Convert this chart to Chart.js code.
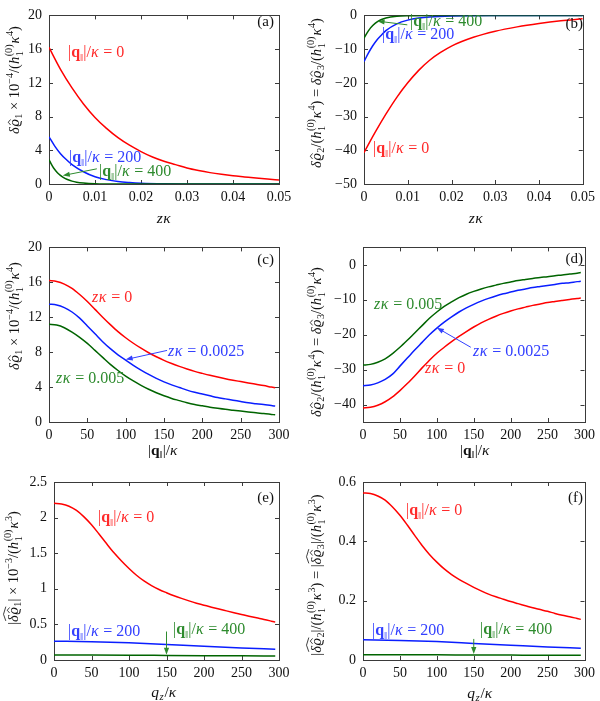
<!DOCTYPE html>
<html><head><meta charset="utf-8">
<script src="https://cdn.jsdelivr.net/npm/chart.js@4/dist/chart.umd.min.js"></script>
<style>
html,body{margin:0;padding:0;background:#fff;}
#wrap{position:relative;width:600px;height:701px;overflow:hidden;}
#wrap canvas{position:absolute;}
</style></head><body><div id="wrap"></div>
<script>
// ---------------- DATA ----------------
const zTicks = [0, 0.01, 0.02, 0.03, 0.04, 0.05];
const qTicks = [0, 50, 100, 150, 200, 250, 300];
const aYTicks = [0, 4, 8, 12, 16, 20];
const bYTicks = [-50, -40, -30, -20, -10, 0];
const cYTicks = [0, 4, 8, 12, 16, 20];
const dYTicks = [-40, -30, -20, -10, 0];
const eYTicks = [0, 0.5, 1, 1.5, 2, 2.5];
const fYTicks = [0, 0.2, 0.4, 0.6];

// panel (a): z*kappa grids and values
const zRedA = [0,0.0025,0.005,0.0075,0.01,0.0125,0.015,0.0175,0.02,0.0225,0.025,0.0275,0.03,0.0325,0.035,0.0375,0.04,0.0425,0.045,0.0475,0.05];
const aRed = [16.2,13.6,11.4,9.5,7.9,6.6,5.5,4.6,3.85,3.2,2.7,2.3,1.9,1.6,1.35,1.15,0.98,0.84,0.7,0.58,0.47];
const zBlueA = [0,0.00125,0.0025,0.00375,0.005,0.0075,0.01,0.0125,0.015,0.0175,0.02,0.025,0.03,0.05];
const aBlue = [5.6,4.5,3.6,2.9,2.3,1.45,0.85,0.52,0.3,0.18,0.1,0.03,0.01,0];
const zGreenA = [0,0.0005,0.001,0.0015,0.002,0.003,0.004,0.005,0.006,0.0075,0.01,0.015,0.05];
const aGreen = [2.9,2.35,1.9,1.55,1.25,0.82,0.53,0.34,0.22,0.12,0.04,0.005,0];

// panel (b)
const zRedB = [0,0.0025,0.005,0.0075,0.01,0.0125,0.015,0.0175,0.02,0.025,0.03,0.035,0.04,0.045,0.05];
const bRed = [-40.7,-34.8,-29.3,-24.3,-20,-16.3,-13.3,-11,-9.1,-6.5,-4.7,-3.4,-2.4,-1.6,-1.0];
const zBlueB = [0,0.001,0.002,0.003,0.004,0.005,0.0075,0.01,0.0125,0.015,0.02,0.03,0.05];
const bBlue = [-13.7,-11.2,-9.0,-7.2,-5.8,-4.5,-2.5,-1.4,-0.8,-0.45,-0.15,-0.02,0];
const zGreenB = [0,0.0005,0.001,0.0015,0.002,0.003,0.004,0.005,0.0075,0.01,0.015,0.05];
const bGreen = [-6.8,-5.6,-4.6,-3.7,-3.0,-1.9,-1.2,-0.75,-0.25,-0.08,0,0];

// panels (c)-(f): |q|/kappa or q_z/kappa grid
const qGrid = [0,10,20,30,40,50,60,70,80,90,100,110,120,130,140,150,160,170,180,190,200,210,220,230,240,250,260,270,280,290,295];
const cRed = [16.2,16.1,15.8,15.3,14.6,13.8,12.9,12.0,11.15,10.35,9.65,9.02,8.45,7.93,7.47,7.06,6.7,6.37,6.07,5.8,5.57,5.35,5.15,4.96,4.79,4.63,4.47,4.32,4.17,4.0,3.92];
const cBlue = [13.5,13.4,13.1,12.6,11.9,11.0,10.1,9.2,8.4,7.7,7.1,6.5,5.95,5.45,5.0,4.6,4.25,3.95,3.65,3.4,3.2,3.0,2.8,2.65,2.5,2.35,2.2,2.1,2.0,1.88,1.83];
const cGreen = [11.2,11.1,10.8,10.3,9.7,9.0,8.2,7.4,6.6,5.9,5.25,4.7,4.2,3.75,3.35,3.0,2.7,2.45,2.2,2.0,1.85,1.7,1.57,1.45,1.35,1.25,1.15,1.05,0.97,0.87,0.82];
const dRed = [-41,-40.8,-40.2,-39.2,-37.8,-36,-34,-31.8,-29.5,-27.3,-25.3,-23.6,-22,-20.5,-19.1,-17.8,-16.6,-15.6,-14.7,-13.9,-13.2,-12.6,-12.1,-11.6,-11.2,-10.8,-10.5,-10.2,-9.9,-9.6,-9.5];
const dBlue = [-34.6,-34.4,-33.8,-32.8,-31.3,-29,-26.7,-24.4,-22.2,-20,-18.1,-16.4,-14.9,-13.5,-12.3,-11.3,-10.4,-9.6,-8.9,-8.3,-7.8,-7.3,-6.9,-6.5,-6.2,-5.9,-5.6,-5.3,-5.1,-4.8,-4.7];
const dGreen = [-28.7,-28.5,-27.9,-26.9,-25.4,-23.6,-21.6,-19.5,-17.4,-15.3,-13.5,-11.9,-10.6,-9.4,-8.4,-7.6,-6.9,-6.3,-5.8,-5.3,-4.9,-4.5,-4.2,-3.9,-3.6,-3.4,-3.1,-2.9,-2.6,-2.4,-2.2];
const eRed = [2.2,2.19,2.16,2.1,2.01,1.9,1.77,1.635,1.505,1.39,1.285,1.19,1.11,1.045,0.99,0.945,0.903,0.865,0.83,0.798,0.77,0.742,0.715,0.69,0.665,0.64,0.615,0.592,0.57,0.545,0.532];
const qCoarse = [0,50,100,150,200,250,295];
const eBlue = [0.265,0.258,0.242,0.218,0.193,0.17,0.152];
const eGreen = [0.07,0.069,0.067,0.064,0.061,0.058,0.056];
const fRed = [0.563,0.561,0.553,0.539,0.516,0.488,0.455,0.42,0.386,0.356,0.33,0.307,0.288,0.272,0.258,0.245,0.233,0.222,0.213,0.205,0.197,0.19,0.183,0.176,0.17,0.164,0.157,0.151,0.146,0.14,0.137];
const fBlue = [0.068,0.066,0.062,0.056,0.05,0.044,0.04];
const fGreen = [0.018,0.018,0.0175,0.017,0.0165,0.016,0.016];

// ---------------- STYLE / LAYOUT ----------------
const FONT = '"Liberation Serif","DejaVu Serif",serif';
const RED = '#ff0000', BLUE = '#0a1eff', GREEN = '#006400';
const RED_T = '#ff2a2a', BLUE_T = '#3340ff', GREEN_T = '#2e8b2e';

const qlab = n => [{t:'|'},{t:'q',f:'b'},{t:'‖',pos:'sub'},{t:'|/'},{t:'κ',f:'i'},{t:' = '+n}];
const zlab = n => [{t:'z',f:'i'},{t:'κ',f:'i'},{t:' = '+n}];
const hk = p => [{t:'/('},{t:'h',f:'i'},{stack:['(0)','1']},{t:'κ',f:'i'},{t:p,pos:'sup'},{t:')'}];
const titleA = [{t:'δ',f:'i'},{t:'ϱ',f:'i',hat:1},{t:'1',pos:'sub'},{t:' × 10'},{t:'−4',pos:'sup'},...hk('4')];
const titleB = [{t:'δ',f:'i'},{t:'ϱ',f:'i',hat:1},{t:'2',pos:'sub'},...hk('4'),{t:' = '},{t:'δ',f:'i'},{t:'ϱ',f:'i',hat:1},{t:'3',pos:'sub'},...hk('4')];
const titleE = [{t:'|'},{t:'δ',f:'i'},{t:'ϱ',f:'i',hat:1,wide:1},{t:'1',pos:'sub'},{t:'| × 10'},{t:'−3',pos:'sup'},...hk('3')];
const titleF = [{t:'|'},{t:'δ',f:'i'},{t:'ϱ',f:'i',hat:1,wide:1},{t:'2',pos:'sub'},{t:'|'},...hk('3'),{t:' = |'},{t:'δ',f:'i'},{t:'ϱ',f:'i',hat:1,wide:1},{t:'3',pos:'sub'},{t:'|'},...hk('3')];
const xZ = [{t:'z',f:'i'},{t:'κ',f:'i'}];
const xQ = [{t:'|'},{t:'q',f:'b'},{t:'‖',pos:'sub'},{t:'|/'},{t:'κ',f:'i'}];
const xQz = [{t:'q',f:'i'},{t:'z',f:'i',pos:'sub'},{t:'/'},{t:'κ',f:'i'}];

function fontFor(s, size){
  const sz = (s.pos ? size*0.7 : size);
  return (s.f==='i'?'italic ':'') + (s.f==='b'?'bold ':'') + sz.toFixed(1) + 'px ' + FONT;
}
function segW(ctx, s, size){
  if (s.stack){ ctx.font = (size*0.7).toFixed(1)+'px '+FONT; return Math.max(ctx.measureText(s.stack[0]).width, ctx.measureText(s.stack[1]).width)+1; }
  ctx.font = fontFor(s,size); return ctx.measureText(s.t).width + (s.f==='i'?size*0.04:0);
}
function drawRich(ctx, segs, x, y, size, color, align, rot){
  ctx.save(); ctx.translate(x,y); if (rot) ctx.rotate(rot);
  let w = 0; for (const s of segs) w += segW(ctx,s,size);
  let cx = align==='center' ? -w/2 : align==='right' ? -w : 0;
  ctx.fillStyle = color; ctx.strokeStyle = color; ctx.lineWidth = 0.8;
  ctx.textAlign = 'left'; ctx.textBaseline = 'alphabetic';
  let prev = cx;
  for (const s of segs){
    const sw = segW(ctx,s,size);
    if (s.stack){
      ctx.font = (size*0.7).toFixed(1)+'px '+FONT;
      ctx.fillText(s.stack[0], cx, -size*0.45);
      ctx.fillText(s.stack[1], cx, size*0.25);
    } else {
      ctx.font = fontFor(s,size);
      const dy = s.pos==='sub' ? size*0.22 : s.pos==='sup' ? -size*0.42 : 0;
      ctx.fillText(s.t, cx, dy);
      if (s.hat){
        ctx.beginPath();
        ctx.moveTo(cx+sw*0.2, -size*0.58); ctx.lineTo(cx+sw*0.55, -size*0.74); ctx.lineTo(cx+sw*0.9, -size*0.58);
        ctx.stroke();
      }
      if (s.wide){
        ctx.beginPath();
        ctx.moveTo(prev+1, -size*0.84); ctx.lineTo((prev+cx+sw)/2, -size*1.0); ctx.lineTo(cx+sw, -size*0.84);
        ctx.stroke();
      }
    }
    prev = cx; cx += sw;
  }
  ctx.restore();
}
function drawArrow(ctx, x1, y1, x2, y2, color){
  ctx.save(); ctx.strokeStyle = color; ctx.fillStyle = color; ctx.lineWidth = 1;
  const ang = Math.atan2(y2-y1, x2-x1), L = 7, Wd = 2.6;
  ctx.beginPath(); ctx.moveTo(x1,y1); ctx.lineTo(x2 - Math.cos(ang)*L*0.8, y2 - Math.sin(ang)*L*0.8); ctx.stroke();
  ctx.beginPath(); ctx.moveTo(x2,y2);
  ctx.lineTo(x2 - Math.cos(ang)*L - Math.sin(ang)*Wd, y2 - Math.sin(ang)*L + Math.cos(ang)*Wd);
  ctx.lineTo(x2 - Math.cos(ang)*L + Math.sin(ang)*Wd, y2 - Math.sin(ang)*L - Math.cos(ang)*Wd);
  ctx.closePath(); ctx.fill();
  ctx.restore();
}
const fmt = v => String(+(+v).toFixed(4)).replace('-', '−');
const pts = (xs, ys) => xs.map((x,i) => ({x, y: ys[i]}));

const LS = 16;   // curve label size
const TS = 14.5; // axis title size
const KS = 14;   // tick label size

const panels = [
  { id:'a', left:0, top:0, w:300, h:232, area:{l:49,t:7,r:279,b:184},
    x:[0,0.05,zTicks], y:[0,20,aYTicks],
    series:[[zGreenA,aGreen,GREEN],[zBlueA,aBlue,BLUE],[zRedA,aRed,RED]],
    labels:[[qlab(0),68,52,RED_T],[qlab(200),69,157,BLUE_T],[qlab(400),99,171,GREEN_T]],
    arrows:[[0.0104,1.8,0.003,1.0,GREEN_T]],
    letter:['(a)',274,22], ytitle:[titleA,19,80], xtitle:[xZ,164,218] },
  { id:'b', left:300, top:0, w:300, h:232, area:{l:364,t:7,r:587,b:184},
    x:[0,0.05,zTicks], y:[-50,0,bYTicks],
    series:[[zGreenB,bGreen,GREEN],[zBlueB,bBlue,BLUE],[zRedB,bRed,RED]],
    labels:[[qlab(400),410,21,GREEN_T],[qlab(200),382,34,BLUE_T],[qlab(0),373,148,RED_T]],
    arrows:[[0.0099,-2.8,0.0031,-1.7,GREEN_T]],
    letter:['(b)',583,24], ytitle:[titleB,321,93], xtitle:[xZ,476,218] },
  { id:'c', left:0, top:232, w:300, h:233, area:{l:49,t:244,r:279,b:422},
    x:[0,300,qTicks], y:[0,20,cYTicks],
    series:[[qGrid,cGreen,GREEN],[qGrid,cBlue,BLUE],[qGrid,cRed,RED]],
    labels:[[zlab(0),92,297,RED_T],[zlab(0.0025),168,351,BLUE_T],[zlab(0.005),56,378,GREEN_T]],
    arrows:[[154,8.2,100,7.15,BLUE_T]],
    letter:['(c)',274,260], ytitle:[titleA,19,316], xtitle:[xQ,163,450] },
  { id:'d', left:300, top:232, w:300, h:233, area:{l:363,t:244,r:587,b:422},
    x:[0,300,qTicks], y:[-45,5,dYTicks],
    series:[[qGrid,dGreen,GREEN],[qGrid,dBlue,BLUE],[qGrid,dRed,RED]],
    labels:[[zlab(0.005),374,304,GREEN_T],[zlab(0.0025),473,351,BLUE_T],[zlab(0),425,368,RED_T]],
    arrows:[[146,-23.6,100,-18,BLUE_T]],
    letter:['(d)',583,259], ytitle:[titleB,321,342], xtitle:[xQ,475,450] },
  { id:'e', left:0, top:465, w:300, h:236, area:{l:54,t:482,r:279,b:660},
    x:[0,300,qTicks], y:[0,2.5,eYTicks],
    series:[[qCoarse,eGreen,GREEN],[qCoarse,eBlue,BLUE],[qGrid,eRed,RED]],
    labels:[[qlab(0),98,517,RED_T],[qlab(200),68,631,BLUE_T],[qlab(400),173,629,GREEN_T]],
    arrows:[[150,0.4,150,0.075,GREEN_T]],
    letter:['(e)',274,498], ytitle:[titleE,18,568], xtitle:[xQz,164,692] },
  { id:'f', left:300, top:465, w:300, h:236, area:{l:363,t:482,r:587,b:660},
    x:[0,300,qTicks], y:[0,0.6,fYTicks],
    series:[[qCoarse,fGreen,GREEN],[qCoarse,fBlue,BLUE],[qGrid,fRed,RED]],
    labels:[[qlab(0),406,510,RED_T],[qlab(200),372,630,BLUE_T],[qlab(400),480,629,GREEN_T]],
    arrows:[[150,0.071,150,0.02,GREEN_T]],
    letter:['(f)',583,498], ytitle:[titleF,321,575], xtitle:[xQz,480,693] },
];

const wrap = document.getElementById('wrap');
for (const p of panels){
  const cv = document.createElement('canvas');
  cv.width = p.w; cv.height = p.h;
  cv.style.left = p.left+'px'; cv.style.top = p.top+'px';
  cv.style.width = p.w+'px'; cv.style.height = p.h+'px';
  wrap.appendChild(cv);
  const A = { l: p.area.l - p.left, t: p.area.t - p.top, r: p.area.r - p.left, b: p.area.b - p.top };
  const ox = p.left, oy = p.top;
  const plugin = {
    id: 'ov' + p.id,
    beforeDatasetsDraw(chart){
      const {ctx, chartArea:a, scales:{x, y}} = chart;
      ctx.save(); ctx.strokeStyle = '#3a3a3a'; ctx.lineWidth = 1;
      ctx.beginPath();
      for (const t of x.ticks){ const px = Math.round(x.getPixelForValue(t.value)) + 0.5;
        ctx.moveTo(px, a.bottom); ctx.lineTo(px, a.bottom-4); ctx.moveTo(px, a.top); ctx.lineTo(px, a.top+4); }
      for (const t of y.ticks){ const py = Math.round(y.getPixelForValue(t.value)) + 0.5;
        ctx.moveTo(a.left, py); ctx.lineTo(a.left+4, py); ctx.moveTo(a.right, py); ctx.lineTo(a.right-4, py); }
      ctx.stroke();
      ctx.strokeRect(Math.round(a.left)+0.5, Math.round(a.top)+0.5, Math.round(a.right-a.left), Math.round(a.bottom-a.top));
      ctx.restore();
    },
    afterDraw(chart){
      const {ctx, scales:{x, y}} = chart;
      for (const [segs, lx, ly, col] of p.labels) drawRich(ctx, segs, lx-ox, ly-oy+LS*0.33, LS, col, 'left', 0);
      for (const [x1,y1,x2,y2,col] of p.arrows)
        drawArrow(ctx, x.getPixelForValue(x1), y.getPixelForValue(y1), x.getPixelForValue(x2), y.getPixelForValue(y2), col);
      ctx.save(); ctx.font = '15px '+FONT; ctx.fillStyle = '#111'; ctx.textAlign='right'; ctx.textBaseline='middle';
      ctx.fillText(p.letter[0], p.letter[1]-ox, p.letter[2]-oy); ctx.restore();
      drawRich(ctx, p.ytitle[0], p.ytitle[1]-ox, p.ytitle[2]-oy, TS, '#111', 'center', -Math.PI/2);
      drawRich(ctx, p.xtitle[0], p.xtitle[1]-ox, p.xtitle[2]-oy+5, 15.5, '#111', 'center', 0);
    }
  };
  new Chart(cv, {
    type: 'line',
    data: { datasets: p.series.map(([xs, ys, col]) => ({
      data: pts(xs, ys), borderColor: col, borderWidth: 1.5, pointRadius: 0,
      cubicInterpolationMode: 'monotone', fill: false })) },
    options: {
      responsive: false, animation: false, devicePixelRatio: 1,
      layout: { padding: { top: A.t, right: p.w - A.r, left: 0, bottom: 0 } },
      plugins: { legend: { display: false }, tooltip: { enabled: false } },
      scales: {
        x: { type: 'linear', min: p.x[0], max: p.x[1],
          afterBuildTicks: s => { s.ticks = p.x[2].map(v => ({ value: v })); },
          afterFit: s => { s.height = p.h - A.b; },
          grid: { display: false, drawTicks: false }, border: { display: false },
          ticks: { padding: 5, color: '#111', font: { family: FONT, size: KS }, callback: fmt, maxRotation: 0, autoSkip: false } },
        y: { type: 'linear', min: p.y[0], max: p.y[1],
          afterBuildTicks: s => { s.ticks = p.y[2].map(v => ({ value: v })); },
          afterFit: s => { s.width = A.l; },
          grid: { display: false, drawTicks: false }, border: { display: false },
          ticks: { padding: 7, color: '#111', font: { family: FONT, size: KS }, callback: fmt, autoSkip: false } }
      }
    },
    plugins: [plugin]
  });
}
</script></body></html>
